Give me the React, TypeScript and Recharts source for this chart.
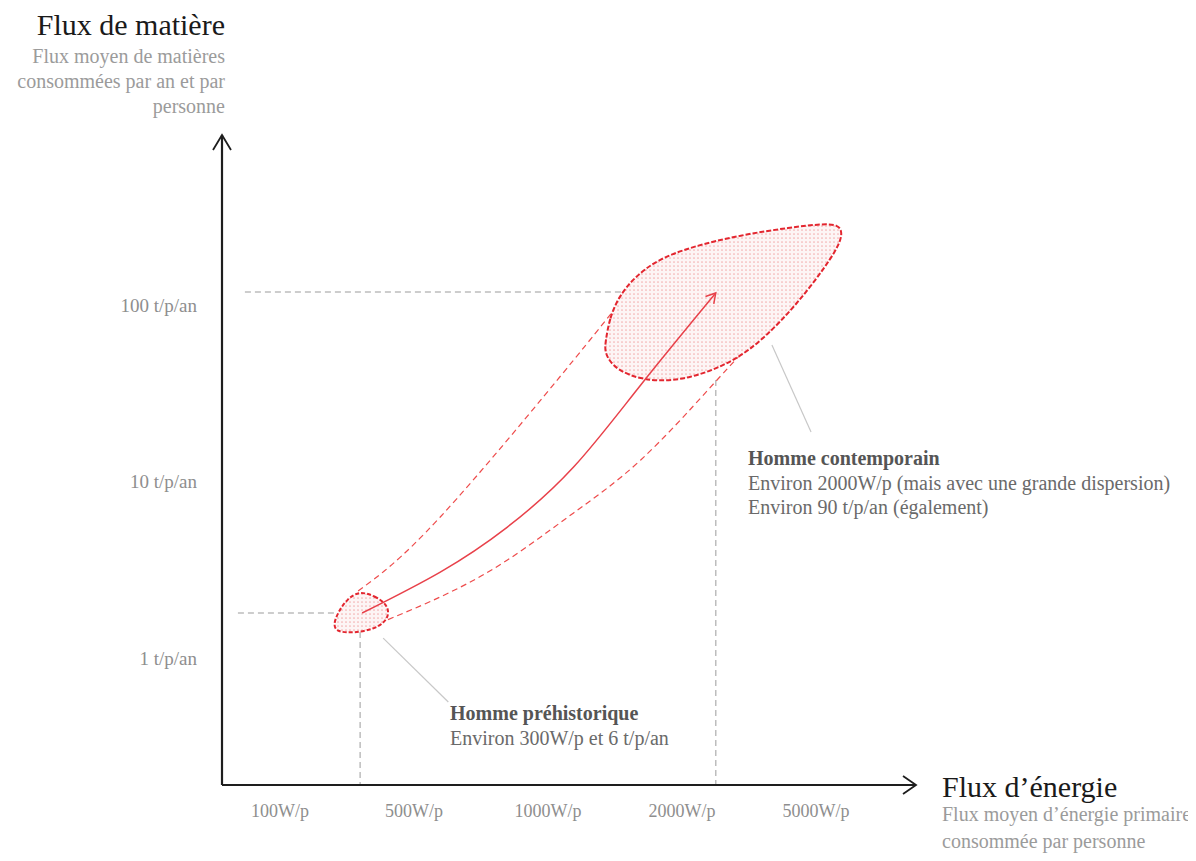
import React from 'react';
import { ComposedChart, Line, XAxis, YAxis } from 'recharts';

type P = { x: number; y: number };

// x unit: position of the energy-flux ticks (0 = 100W/p ... 4 = 5000W/p)
// y unit: log10 of material flux (t/p/an)
const xTickValues = [0, 1, 2, 3, 4];
const xTickLabels = ['100W/p', '500W/p', '1000W/p', '2000W/p', '5000W/p'];
const yTickValues = [0, 1, 2];
const yTickLabels = ['1 t/p/an', '10 t/p/an', '100 t/p/an'];

const X_DOMAIN: [number, number] = [-0.55, 4.85];
const Y_DOMAIN: [number, number] = [-0.78, 3.0];

const prehistoricBlob: P[] = [
  { x: 0.591, y: 0.38 }, { x: 0.71, y: 0.351 }, { x: 0.793, y: 0.306 }, { x: 0.815, y: 0.255 },
  { x: 0.785, y: 0.204 }, { x: 0.703, y: 0.164 }, { x: 0.553, y: 0.142 }, { x: 0.426, y: 0.147 },
  { x: 0.396, y: 0.187 }, { x: 0.434, y: 0.261 }, { x: 0.501, y: 0.334 },
];

const contemporaryBlob: P[] = [
  { x: 2.43, y: 1.796 }, { x: 2.46, y: 1.926 }, { x: 2.527, y: 2.045 }, { x: 2.639, y: 2.153 },
  { x: 2.811, y: 2.255 }, { x: 3.065, y: 2.329 }, { x: 3.439, y: 2.397 }, { x: 3.813, y: 2.44 },
  { x: 4.052, y: 2.46 }, { x: 4.165, y: 2.455 }, { x: 4.2, y: 2.412 }, { x: 4.165, y: 2.32 },
  { x: 3.955, y: 2.096 }, { x: 3.723, y: 1.892 }, { x: 3.499, y: 1.739 }, { x: 3.305, y: 1.654 },
  { x: 3.065, y: 1.586 }, { x: 2.819, y: 1.564 }, { x: 2.602, y: 1.598 }, { x: 2.475, y: 1.66 },
  { x: 2.422, y: 1.734 },
];

const upperEnvelope: P[] = [
  { x: 0.583, y: 0.38 }, { x: 1.196, y: 0.799 }, { x: 2.191, y: 1.688 }, { x: 2.602, y: 2.079 },
];
const lowerEnvelope: P[] = [
  { x: 0.598, y: 0.153 }, { x: 1.196, y: 0.346 }, { x: 1.697, y: 0.555 }, { x: 2.191, y: 0.822 },
  { x: 2.692, y: 1.122 }, { x: 3.193, y: 1.518 }, { x: 3.439, y: 1.722 }, { x: 3.574, y: 1.836 },
];

const trajectory: P[] = [
  { x: 0.613, y: 0.255 }, { x: 1.196, y: 0.487 }, { x: 1.697, y: 0.742 },
  { x: 2.191, y: 1.082 }, { x: 2.692, y: 1.547 }, { x: 3.252, y: 2.068 },
];
const trajectoryHead: P[] = [{ x: 3.175, y: 2.048 }, { x: 3.252, y: 2.068 }, { x: 3.237, y: 2.007 }];

const guideH100: P[] = [{ x: -0.262, y: 2.074 }, { x: 2.564, y: 2.074 }];
const guideH6: P[] = [{ x: -0.314, y: 0.255 }, { x: 0.434, y: 0.255 }];
const guideV300: P[] = [{ x: 0.598, y: 0.147 }, { x: 0.598, y: -0.7195 }];
const guideV2000: P[] = [{ x: 3.252, y: 1.575 }, { x: 3.252, y: -0.7195 }];

const leaderPrehistoric: P[] = [{ x: 0.77, y: 0.113 }, { x: 1.256, y: -0.249 }];
const leaderContemporary: P[] = [{ x: 3.671, y: 1.773 }, { x: 3.963, y: 1.281 }];

const yAxisLine: P[] = [{ x: -0.4328, y: -0.7195 }, { x: -0.4328, y: 2.9632 }];
const yAxisHead: P[] = [{ x: -0.5, y: 2.8782 }, { x: -0.4328, y: 2.9632 }, { x: -0.3657, y: 2.8782 }];
const xAxisLine: P[] = [{ x: -0.4328, y: -0.7195 }, { x: 4.7463, y: -0.7195 }];
const xAxisHead: P[] = [{ x: 4.6493, y: -0.6686 }, { x: 4.7463, y: -0.7195 }, { x: 4.6493, y: -0.7705 }];

const FONT = "'Liberation Serif', 'Times New Roman', serif";
const RED = '#e3262f';

const seg = (key: string, data: P[], props: Record<string, any>) => (
  <Line
    key={key}
    data={data}
    dataKey="y"
    dot={false}
    activeDot={false}
    isAnimationActive={false}
    legendType="none"
    {...props}
  />
);

export default function App() {
  return (
    <div style={{ position: 'relative', width: 1188, height: 853, background: '#fff' }}>
      <style>{`.blob-fill path.recharts-line-curve { fill: url(#dotFill); }`}</style>
      <svg width="0" height="0" style={{ position: 'absolute' }}>
        <defs>
          <pattern id="dotFill" width="4" height="4" patternUnits="userSpaceOnUse">
            <rect width="4" height="4" fill="#fdf5f5" />
            <circle cx="2" cy="2" r="0.85" fill="#f3b0b0" />
          </pattern>
        </defs>
      </svg>
      <ComposedChart
        width={1188}
        height={853}
        margin={{ top: 120.5, right: 266.1, bottom: 25.33, left: 98.3 }}
      >
        <XAxis
          type="number"
          dataKey="x"
          domain={X_DOMAIN}
          allowDataOverflow
          ticks={xTickValues}
          interval={0}
          tickFormatter={(v: number) => xTickLabels[xTickValues.indexOf(v)] ?? ''}
          axisLine={false}
          tickLine={false}
          tickSize={0}
          tickMargin={8.5}
          height={40}
          tick={{ fontFamily: FONT, fontSize: 18, fill: '#8e8e8e' }}
        />
        <YAxis
          type="number"
          dataKey="y"
          domain={Y_DOMAIN}
          allowDataOverflow
          ticks={yTickValues}
          interval={0}
          tickFormatter={(v: number) => yTickLabels[yTickValues.indexOf(v)] ?? ''}
          axisLine={false}
          tickLine={false}
          tickSize={0}
          tickMargin={9.3}
          width={100}
          tick={{ fontFamily: FONT, fontSize: 19, fill: '#8e8e8e' }}
        />
        {seg('gh100', guideH100, { stroke: '#bdbdbd', strokeWidth: 1.5, strokeDasharray: '6 4' })}
        {seg('gh6', guideH6, { stroke: '#bdbdbd', strokeWidth: 1.5, strokeDasharray: '6 4' })}
        {seg('gv300', guideV300, { stroke: '#bdbdbd', strokeWidth: 1.5, strokeDasharray: '6 4' })}
        {seg('gv2000', guideV2000, { stroke: '#bdbdbd', strokeWidth: 1.5, strokeDasharray: '6 4' })}
        {seg('envUp', upperEnvelope, { type: 'natural', stroke: '#ee4b4b', strokeWidth: 1.2, strokeDasharray: '6 4' })}
        {seg('envLow', lowerEnvelope, { type: 'natural', stroke: '#ee4b4b', strokeWidth: 1.2, strokeDasharray: '6 4' })}
        {seg('blobBig', contemporaryBlob, { type: 'basisClosed', className: 'blob-fill', stroke: RED, strokeWidth: 2, strokeDasharray: '5 2' })}
        {seg('blobSmall', prehistoricBlob, { type: 'basisClosed', className: 'blob-fill', stroke: RED, strokeWidth: 2, strokeDasharray: '4 2' })}
        {seg('traj', trajectory, { type: 'natural', stroke: '#e8414a', strokeWidth: 1.5 })}
        {seg('trajHead', trajectoryHead, { stroke: '#e8414a', strokeWidth: 1.5 })}
        {seg('leadPre', leaderPrehistoric, { stroke: '#c8c8c8', strokeWidth: 1.2 })}
        {seg('leadCon', leaderContemporary, { stroke: '#c8c8c8', strokeWidth: 1.2 })}
        {seg('yAxis', yAxisLine, { stroke: '#1e1e1e', strokeWidth: 2.2 })}
        {seg('yHead', yAxisHead, { stroke: '#1e1e1e', strokeWidth: 1.8 })}
        {seg('xAxis', xAxisLine, { stroke: '#1e1e1e', strokeWidth: 2.2 })}
        {seg('xHead', xAxisHead, { stroke: '#1e1e1e', strokeWidth: 1.8 })}
      </ComposedChart>
      <svg
        width={1188}
        height={853}
        style={{ position: 'absolute', left: 0, top: 0, pointerEvents: 'none' }}
        fontFamily={FONT}
      >
        <text x={217} y={27} textAnchor="end" fontSize={30} fill="#1a1a1a">Flux de matière</text>
        <text x={217} y={55} textAnchor="end" fontSize={20} fill="#9b9b9b">Flux moyen de matières</text>
        <text x={217} y={80} textAnchor="end" fontSize={20} fill="#9b9b9b">consommées par an et par</text>
        <text x={217} y={105} textAnchor="end" fontSize={20} fill="#9b9b9b">personne</text>

        <text x={934} y={789} fontSize={30} fill="#1a1a1a">Flux d’énergie</text>
        <text x={934} y={813} fontSize={20} fill="#9b9b9b">Flux moyen d’énergie primaire</text>
        <text x={934} y={840} fontSize={20} fill="#9b9b9b">consommée par personne</text>

        <text x={740} y={457} fontSize={20} fontWeight="bold" fill="#555">Homme contemporain</text>
        <text x={740} y={482} fontSize={20} fill="#6a6a6a">Environ 2000W/p (mais avec une grande dispersion)</text>
        <text x={740} y={506} fontSize={20} fill="#6a6a6a">Environ 90 t/p/an (également)</text>

        <text x={442} y={712} fontSize={20} fontWeight="bold" fill="#555">Homme préhistorique</text>
        <text x={442} y={737} fontSize={20} fill="#6a6a6a">Environ 300W/p et 6 t/p/an</text>
      </svg>
    </div>
  );
}
